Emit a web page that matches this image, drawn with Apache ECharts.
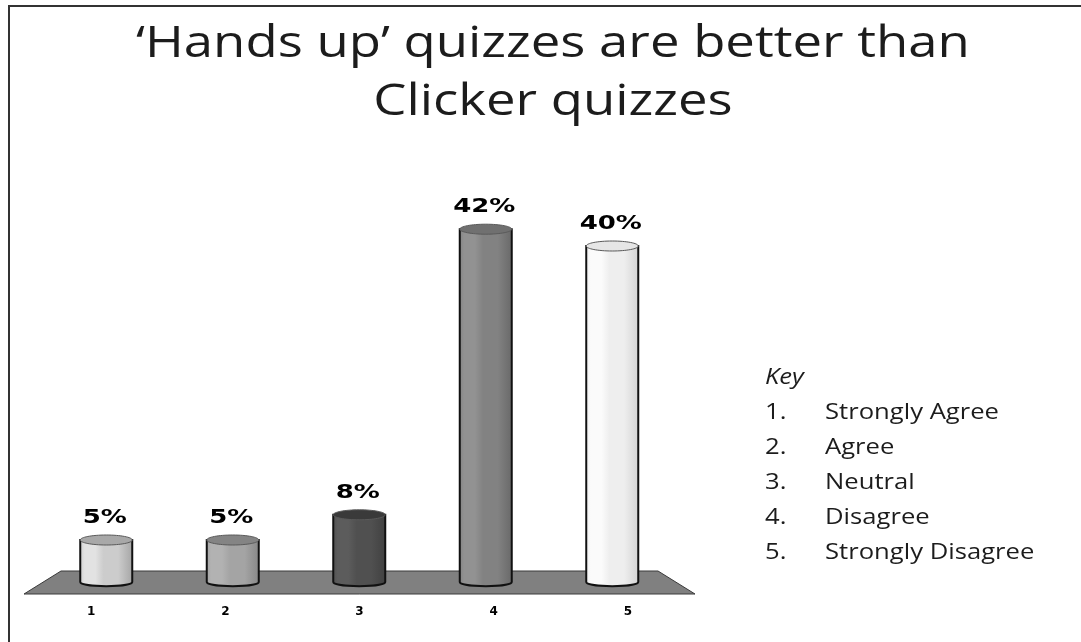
<!DOCTYPE html>
<html>
<head>
<meta charset="utf-8">
<style>
  html, body { margin: 0; padding: 0; background: #fff; }
  #chart { width: 1081px; height: 642px; }
</style>
<script src="https://cdn.jsdelivr.net/npm/echarts@6/dist/echarts.min.js"></script>
</head>
<body>
<div id="chart"></div>
<script>
const titleLines = ['‘Hands up’ quizzes are better than', 'Clicker quizzes']
const categories = ['1', '2', '3', '4', '5']
const percentValues = [5, 5, 8, 42, 40]
const keyTitle = 'Key'
const keyLabels = ['Strongly Agree', 'Agree', 'Neutral', 'Disagree', 'Strongly Disagree']

// 每根柱子的明暗条纹
const barShades = [
  { edge: '#e2e2e2', mid: '#cccccc', dark: '#a4a4a4', top: '#a8a8a8' },
  { edge: '#b2b2b2', mid: '#a4a4a4', dark: '#868686', top: '#848484' },
  { edge: '#5c5c5c', mid: '#505050', dark: '#404040', top: '#3a3a3a' },
  { edge: '#929292', mid: '#828282', dark: '#686868', top: '#707070' },
  { edge: '#fbfbfb', mid: '#eeeeee', dark: '#d2d2d2', top: '#e6e6e6' }
]

const mycharts = echarts.init(document.getElementById('chart'))

// 文字在原图里被横向拉宽,这里用 scaleX 还原
function wideText(text, x, y, font, scaleX, align) {
  return {
    type: 'text',
    x: x,
    y: y,
    scaleX: scaleX,
    style: { text: text, x: 0, y: 0, font: font, fill: '#1c1c1c', align: align || 'left', verticalAlign: 'middle' }
  }
}

const keyGraphics = [wideText(keyTitle, 765, 378, 'italic 21px "Open Sans"', 1.22)]
keyLabels.forEach((label, i) => {
  const y = 413 + i * 35
  keyGraphics.push(wideText((i + 1) + '.', 765, y, '21px "Open Sans"', 1.22))
  keyGraphics.push(wideText(label, 825, y, '21px "Open Sans"', 1.22))
})

const titleGraphics = titleLines.map((line, i) =>
  wideText(line, 553, 44 + i * 58, '44px "Open Sans"', 1.197, 'center')
)

// 地板
function renderFloor(params, api) {
  const g = params.coordSys
  return {
    type: 'polygon',
    shape: {
      points: [
        [g.x + 37, g.y],
        [g.x + g.width - 37, g.y],
        [g.x + g.width, g.y + g.height],
        [g.x, g.y + g.height]
      ]
    },
    style: { fill: '#808080', stroke: '#3a3a3a', lineWidth: 1 }
  }
}

// 圆柱
function renderCylinder(params, api) {
  const i = api.value(0)
  const top = api.coord([i, api.value(1)])
  const base = api.coord([i, 0])
  const rx = 26
  const ry = 5
  const s = barShades[i]
  const side = new echarts.graphic.LinearGradient(0, 0, 1, 0, [
    { offset: 0, color: s.mid },
    { offset: 0.1, color: s.edge },
    { offset: 0.3, color: s.edge },
    { offset: 0.45, color: s.mid },
    { offset: 0.72, color: s.mid },
    { offset: 1, color: s.dark }
  ])
  const bulge = ry * 1.1
  return {
    type: 'group',
    children: [
      {
        type: 'path',
        shape: {
          pathData: `M${top[0] - rx} ${top[1]} L${top[0] - rx} ${base[1]} C${top[0] - rx} ${base[1] + bulge} ${top[0] + rx} ${base[1] + bulge} ${top[0] + rx} ${base[1]} L${top[0] + rx} ${top[1]} Z`
        },
        style: { fill: side, stroke: '#111', lineWidth: 2 }
      },
      {
        type: 'ellipse',
        shape: { cx: top[0], cy: top[1], rx: rx, ry: ry },
        style: { fill: s.top, stroke: '#5a5a5a', lineWidth: 1 }
      },
      {
        type: 'text',
        x: top[0] - 1.5,
        y: top[1] - 22,
        scaleX: 1.3,
        style: {
          text: api.value(1) + '%',
          x: 0,
          y: 0,
          align: 'center',
          verticalAlign: 'middle',
          font: 'bold 20px "DejaVu Sans"',
          fill: '#000'
        }
      }
    ]
  }
}

mycharts.setOption({
  animation: false,
  backgroundColor: '#fff',
  grid: [
    { left: 43, top: 162, width: 632.5, height: 420 }, // 圆柱
    { left: 24, top: 571, width: 671, height: 23 }     // 地板和刻度文字
  ],
  xAxis: [
    { type: 'category', gridIndex: 0, data: categories, show: false },
    {
      type: 'category',
      gridIndex: 1,
      data: categories,
      axisLine: { show: false },
      axisTick: { show: false },
      axisLabel: { margin: 12, fontFamily: 'DejaVu Sans', fontWeight: 'bold', fontSize: 12, color: '#000' }
    }
  ],
  yAxis: [
    { type: 'value', gridIndex: 0, min: 0, max: 50, show: false },
    { type: 'value', gridIndex: 1, min: 0, max: 1, show: false }
  ],
  graphic: [
    {
      type: 'polyline',
      shape: { points: [[9, 642], [9, 6], [1081, 6]] },
      style: { fill: 'none', stroke: '#333', lineWidth: 2 }
    },
    ...titleGraphics,
    ...keyGraphics
  ],
  series: [
    { type: 'custom', xAxisIndex: 1, yAxisIndex: 1, renderItem: renderFloor, data: [0], silent: true, z: 1 },
    {
      type: 'custom',
      xAxisIndex: 0,
      yAxisIndex: 0,
      renderItem: renderCylinder,
      encode: { x: 0, y: 1 },
      data: percentValues.map((v, i) => [i, v]),
      z: 2
    }
  ]
})
</script>
</body>
</html>
